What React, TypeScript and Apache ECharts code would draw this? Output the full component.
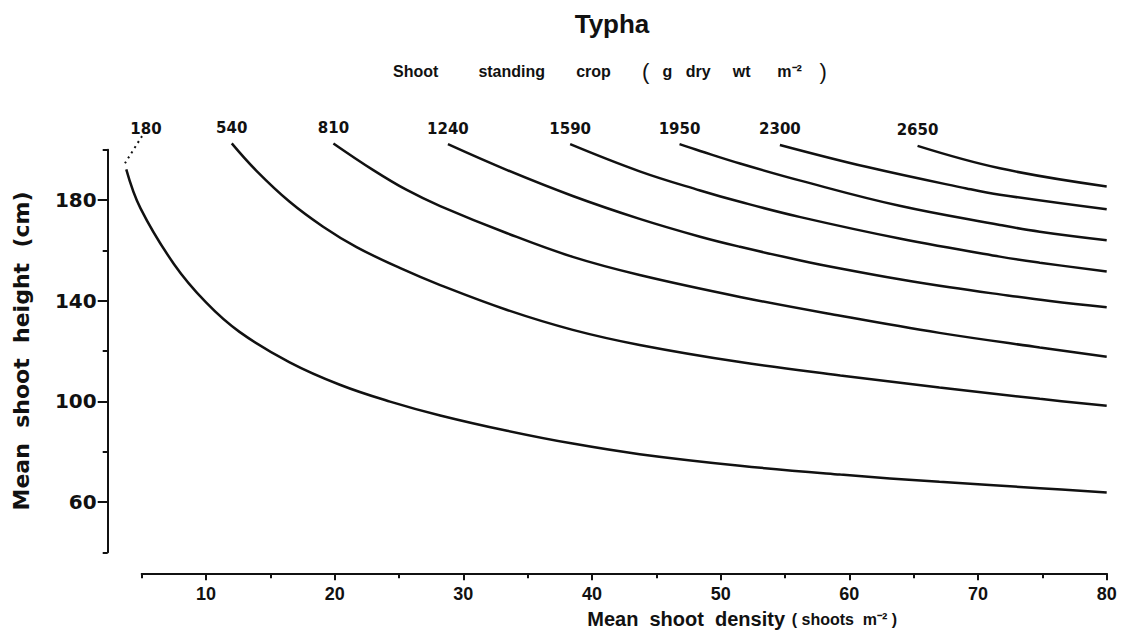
import React, { useEffect, useRef } from 'react';
import * as echarts from 'echarts';

// Isoline labels: shoot standing crop (g dry wt m-2)
const curveLabels = ['180', '540', '810', '1240', '1590', '1950', '2300', '2650'];

// [mean shoot density (shoots m-2), mean shoot height (cm)]
const crop180: number[][] = [
  [3.8, 192.2], [4.9, 176.8], [7.5, 154.6], [10.0, 139.3], [12.6, 127.6], [16.5, 115.5],
  [20.4, 106.6], [24.3, 99.9], [28.2, 94.4], [33.4, 88.3], [38.5, 83.2], [43.7, 79.0],
  [51.5, 74.4], [59.3, 70.9], [67.0, 68.0], [74.8, 65.5], [80, 63.8],
];
const crop180Extension: number[][] = [[3.7, 194.6], [5.1, 206.0]];
const crop540: number[][] = [
  [12.0, 202.5], [13.9, 191.7], [16.5, 179.3], [19.1, 169.4], [21.7, 161.3], [25.1, 152.9],
  [28.2, 146.2], [33.4, 136.3], [38.5, 128.4], [43.7, 122.4], [51.5, 115.6], [59.3, 110.3],
  [67.0, 105.5], [74.8, 101.0], [80, 98.2],
];
const crop810: number[][] = [
  [19.9, 202.5], [23.0, 191.9], [25.6, 184.0], [28.2, 177.6], [33.4, 166.8], [38.5, 157.4],
  [43.7, 150.2], [51.5, 141.5], [59.3, 134.0], [67.0, 127.2], [74.8, 121.4], [80, 117.7],
];
const crop1240: number[][] = [
  [28.8, 202.2], [33.4, 191.9], [38.5, 181.6], [43.7, 172.5], [48.4, 165.4], [51.5, 161.4],
  [56.2, 156.0], [59.3, 152.8], [63.9, 148.5], [67.8, 145.3], [71.7, 142.5], [75.6, 139.9],
  [80, 137.4],
];
const crop1590: number[][] = [
  [38.3, 202.2], [43.7, 191.4], [48.4, 183.8], [51.5, 179.3], [56.2, 173.2], [63.9, 164.7],
  [71.7, 157.5], [74.8, 155.1], [80, 151.6],
];
const crop1950: number[][] = [
  [46.8, 202.2], [48.4, 199.5], [51.5, 194.5], [56.2, 187.7], [63.9, 177.7], [71.7, 170.1],
  [74.8, 167.4], [80, 164.0],
];
const crop2300: number[][] = [
  [54.6, 201.9], [61.4, 193.1], [69.1, 184.6], [71.7, 182.1], [80, 176.3],
];
const crop2650: number[][] = [
  [65.3, 201.5], [71.7, 192.6], [80, 185.4],
];

const xMajorTicks = [10, 20, 30, 40, 50, 60, 70, 80];
const xMinorTicks = [5, 15, 25, 35, 45, 55, 65, 75];
const yMajorTicks = [60, 100, 140, 180];
const yMinorTicks = [40, 80, 120, 160, 200];

const INK = '#111';
const SANS = '"Liberation Sans", Arial, sans-serif';
const WIDE = '"DejaVu Sans", sans-serif';

const sp = (n: number) => ' '.repeat(n);

function curveSeries(label: string, pts: number[][], labelIndex: number | null, dotted = false) {
  return {
    type: 'line',
    name: label,
    xAxisIndex: 2,
    yAxisIndex: 2,
    smooth: 0.4,
    clip: false,
    symbol: 'circle',
    symbolSize: 0,
    showSymbol: true,
    silent: true,
    lineStyle: { color: INK, width: dotted ? 2 : 2.5, type: dotted ? [2, 4] : 'solid' },
    itemStyle: { color: INK },
    label: {
      show: false,
      formatter: label,
      position: 'top',
      distance: 8,
      color: INK,
      fontFamily: WIDE,
      fontWeight: 'bold',
      fontSize: 15,
    },
    data: pts.map((p, i) =>
      i === labelIndex ? { value: p, label: { show: true, offset: dotted ? [3, 10] : [0, 0] } } : p,
    ),
  };
}

export default function App() {
  const ref = useRef<HTMLDivElement>(null);
  useEffect(() => {
    document.body.style.margin = '0';
    if (!ref.current) return;
    const chart = echarts.init(ref.current, null, { renderer: 'svg' });
    const axisLineStyle = { color: INK, width: 2 };
    const gridLeft = 141.7;
    const pxPerUnit = 12.87;
    const plotMin = 3.5;
    const subtitle =
      'Shoot' + sp(9) + 'standing' + sp(7) + 'crop' + sp(7) + '{p|(}' + sp(3) + 'g' + sp(3) +
      'dry' + sp(5) + 'wt' + sp(6) + 'm⁻²' + sp(4) + '{p|)}';
    chart.setOption({
      animation: false,
      backgroundColor: '#fff',
      grid: [
        { left: gridLeft, right: 16.3, top: 149.7, bottom: 90.7, containLabel: false },
        { left: gridLeft - (5 - plotMin) * pxPerUnit, right: 16.3, top: 149.7, bottom: 90.7, containLabel: false },
      ],
      graphic: [
        {
          type: 'text',
          x: 612,
          y: 24,
          style: {
            text: 'Typha',
            font: `bold 26px ${SANS}`,
            fill: INK,
            align: 'center',
            verticalAlign: 'middle',
            textAlign: 'center',
            textVerticalAlign: 'middle',
          },
        },
        {
          type: 'text',
          x: 610,
          y: 71,
          style: {
            text: subtitle,
            font: `bold 16px ${SANS}`,
            fill: INK,
            align: 'center',
            verticalAlign: 'middle',
            textAlign: 'center',
            textVerticalAlign: 'middle',
            rich: { p: { font: `22px ${SANS}`, fill: INK } },
          },
        },
      ],
      xAxis: [
        {
          type: 'value',
          gridIndex: 0,
          min: 5,
          max: 80,
          position: 'bottom',
          offset: 21,
          axisLine: { show: true, lineStyle: axisLineStyle },
          axisTick: { show: true, customValues: xMajorTicks, length: 7, lineStyle: axisLineStyle },
          axisLabel: {
            customValues: xMajorTicks,
            margin: 12,
            color: INK,
            fontFamily: SANS,
            fontWeight: 'bold',
            fontSize: 18,
          },
          splitLine: { show: false },
          name: '{b|Mean  shoot  density}  {s|( shoots  m⁻² )}',
          nameLocation: 'middle',
          nameGap: 36,
          nameTextStyle: {
            padding: [0, 0, 0, 236],
            rich: {
              b: { fontFamily: SANS, fontWeight: 'bold', fontSize: 20, color: INK },
              s: { fontFamily: SANS, fontWeight: 'bold', fontSize: 16, color: INK },
            },
          },
        },
        {
          type: 'value',
          gridIndex: 0,
          min: 5,
          max: 80,
          position: 'bottom',
          offset: 21,
          axisLine: { show: false },
          axisTick: { show: true, customValues: xMinorTicks, length: 5, lineStyle: axisLineStyle },
          axisLabel: { show: false },
          splitLine: { show: false },
        },
        {
          type: 'value',
          gridIndex: 1,
          min: plotMin,
          max: 80,
          show: false,
        },
      ],
      yAxis: [
        {
          type: 'value',
          gridIndex: 0,
          min: 40,
          max: 200,
          position: 'left',
          offset: 34,
          axisLine: { show: true, lineStyle: axisLineStyle },
          axisTick: { show: true, customValues: yMajorTicks, length: 10, lineStyle: axisLineStyle },
          axisLabel: {
            customValues: yMajorTicks,
            margin: 11,
            color: INK,
            fontFamily: WIDE,
            fontWeight: 'bold',
            fontSize: 20,
          },
          splitLine: { show: false },
          name: 'Mean  shoot  height  (cm)',
          nameLocation: 'middle',
          nameGap: 75,
          nameTextStyle: { fontFamily: WIDE, fontWeight: 'bold', fontSize: 22, color: INK },
        },
        {
          type: 'value',
          gridIndex: 0,
          min: 40,
          max: 200,
          position: 'left',
          offset: 34,
          axisLine: { show: false },
          axisTick: { show: true, customValues: yMinorTicks, length: 5, lineStyle: axisLineStyle },
          axisLabel: { show: false },
          splitLine: { show: false },
        },
        {
          type: 'value',
          gridIndex: 1,
          min: 40,
          max: 200,
          show: false,
        },
      ],
      series: [
        curveSeries(curveLabels[0], crop180Extension, 1, true),
        curveSeries(curveLabels[0], crop180, null),
        curveSeries(curveLabels[1], crop540, 0),
        curveSeries(curveLabels[2], crop810, 0),
        curveSeries(curveLabels[3], crop1240, 0),
        curveSeries(curveLabels[4], crop1590, 0),
        curveSeries(curveLabels[5], crop1950, 0),
        curveSeries(curveLabels[6], crop2300, 0),
        curveSeries(curveLabels[7], crop2650, 0),
      ],
    });
    return () => chart.dispose();
  }, []);
  return <div ref={ref} style={{ width: 1123, height: 643 }} />;
}
